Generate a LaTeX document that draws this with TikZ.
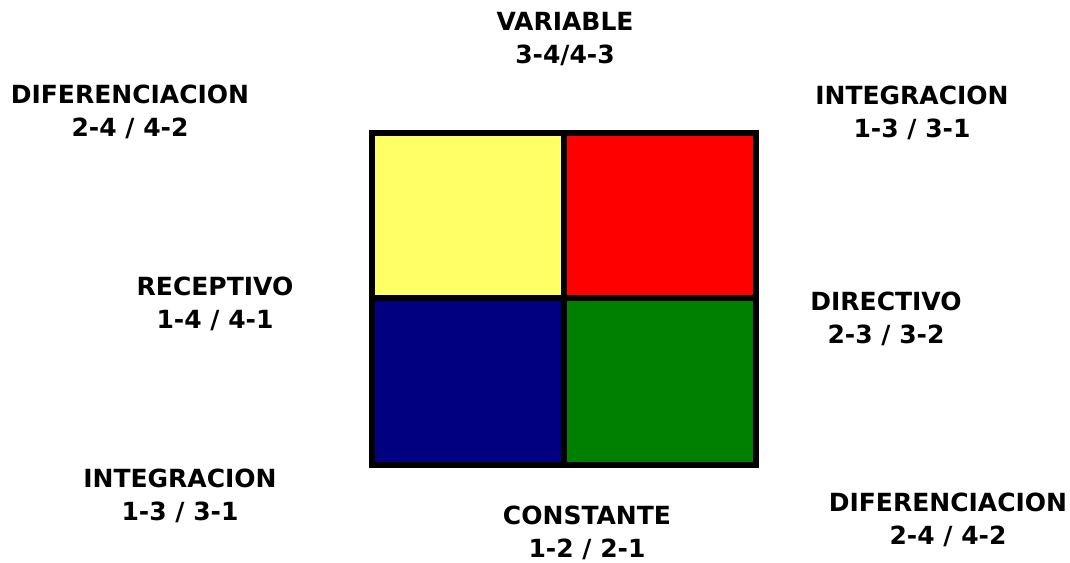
\documentclass[tikz,border=0pt]{standalone}
\usepackage{fontspec}
\setmainfont{DejaVu Sans}
\begin{document}
\begin{tikzpicture}[x=1pt,y=-1pt,
  lbl/.style={font=\bfseries\fontsize{25}{33}\selectfont, align=center, inner sep=0pt, text=black},
  cell/.style={draw=black, line width=6pt}]
\useasboundingbox[fill=white] (0,0) rectangle (1070,562);
\fill[fill={rgb,255:red,255;green,255;blue,102}] (372,133) rectangle (564,298);
\fill[fill={rgb,255:red,255;green,0;blue,0}] (564,133) rectangle (756,298);
\fill[fill={rgb,255:red,0;green,0;blue,128}] (372,298) rectangle (564,465);
\fill[fill={rgb,255:red,0;green,128;blue,0}] (564,298) rectangle (756,465);
\draw[cell] (372,133) rectangle (756,465);
\draw[cell] (564,133) -- (564,465);
\draw[cell] (372,298) -- (756,298);
\node[lbl] (var) at (565,39) {VARIABLE\\3-4/4-3};
\node[lbl] (dtl) at (130,112) {DIFERENCIACION\\2-4 / 4-2};
\node[lbl] (itr) at (912,113) {INTEGRACION\\1-3 / 3-1};
\node[lbl] (rec) at (215,304) {RECEPTIVO\\1-4 / 4-1};
\node[lbl] (dir) at (886,319) {DIRECTIVO\\2-3 / 3-2};
\node[lbl] (ibl) at (180,496) {INTEGRACION\\1-3 / 3-1};
\node[lbl] (con) at (587,533) {CONSTANTE\\1-2 / 2-1};
\node[lbl] (dbr) at (948,520) {DIFERENCIACION\\2-4 / 4-2};
\end{tikzpicture}
\end{document}
